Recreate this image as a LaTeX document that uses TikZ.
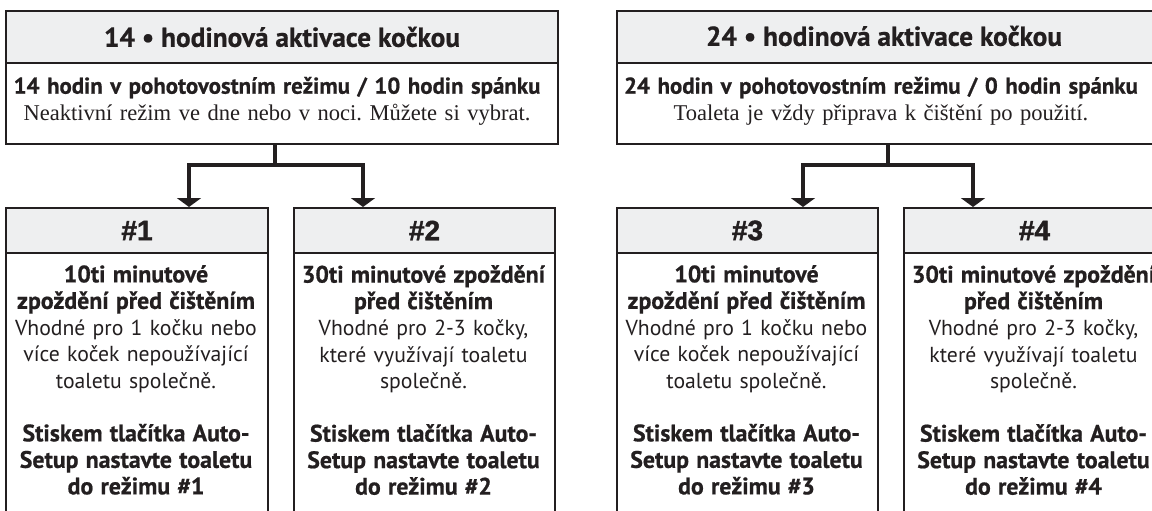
\documentclass[tikz,border=0pt]{standalone}
\usepackage{fontspec}
\setmainfont{Liberation Serif}
\newfontfamily\myr[BoldFeatures={FakeBold=0.7}]{PT Sans}
\newfontfamily\hashfam[BoldFeatures={FakeBold=1.5}]{Liberation Sans}
\usetikzlibrary{arrows.meta}
\definecolor{ink}{HTML}{231F20}
\definecolor{band}{HTML}{EEEFF0}
\frenchspacing
\newlength\fitw
\newcommand\fitfont[4]{%
  \settowidth\fitw{#2\fontsize{10pt}{12pt}\selectfont #3}%
  \pgfmathsetmacro#1{10*#4/\fitw}}
\AtBeginDocument{%
\frenchspacing
\fitfont\szH{\myr\bfseries}{14 • hodinová aktivace kočkou}{356}%
\fitfont\szS{\myr\bfseries}{14 hodin v pohotovostním režimu / 10 hodin spánku}{513}%
\fitfont\szE{\rmfamily}{Neaktivní režim ve dne nebo v noci. Můžete si vybrat.}{490}%
\fitfont\szB{\myr\bfseries}{Setup nastavte toaletu}{230}%
\fitfont\szR{\myr}{Vhodné pro 1 kočku nebo}{236}%
}
\newcommand\Bl[1]{{\myr\bfseries\fontsize{\szB pt}{26.5pt}\selectfont #1}}
\newcommand\Rl[1]{{\myr\fontsize{\szR pt}{26.5pt}\selectfont #1}}
\tikzset{
  frame/.style={draw=ink, line width=2pt, inner sep=0pt, anchor=north west},
  hband/.style={frame, fill=band, text=ink},
  wbody/.style={frame, fill=white},
  conn/.style={draw=ink, line width=3.6pt},
  arr/.style={conn, -{Triangle[width=24pt,length=9pt]}},
  txt/.style={text=ink, inner sep=0pt, align=center, text width=300pt,
    font=\myr\fontsize{\szR pt}{26.5pt}\selectfont},
  toptxt/.style={text=ink, inner sep=0pt, align=center, text width=580pt,
    font=\rmfamily\fontsize{\szE pt}{26.5pt}\selectfont},
  htitle/.style={font=\myr\bfseries\fontsize{\szH pt}{\szH pt}\selectfont},
  hashtitle/.style={font=\hashfam\bfseries\fontsize{28pt}{28pt}\selectfont},
}
\begin{document}
\begin{tikzpicture}[x=1pt,y=-1pt]
\useasboundingbox (0,0) rectangle (1152,511);
\clip (0,0) rectangle (1152,511);
\fill[white] (0,0) rectangle (1152,511);

% ---- top boxes
\node[hband, htitle, minimum width=552pt, minimum height=52pt] (T1h) at (5,10) {14 • hodinová aktivace kočkou};
\node[wbody, minimum width=552pt, minimum height=81pt] (T1b) at (5,62) {};
\node[toptxt] (T1t) at (277,101) {{\myr\bfseries\fontsize{\szS pt}{26.5pt}\selectfont 14 hodin v pohotovostním režimu / 10 hodin spánku}\\
{\rmfamily\fontsize{\szE pt}{26.5pt}\selectfont Neaktivní režim ve dne nebo v noci. Můžete si vybrat.}};

\node[hband, htitle, minimum width=552pt, minimum height=52pt] (T2h) at (616,10) {};
\node[htitle, text=ink] (T2ht) at (884,36) {24 • hodinová aktivace kočkou};
\node[wbody, minimum width=552pt, minimum height=81pt] (T2b) at (616,62) {};
\node[toptxt] (T2t) at (881,101) {{\myr\bfseries\fontsize{\szS pt}{26.5pt}\selectfont 24 hodin v pohotovostním režimu / 0 hodin spánku}\\
{\rmfamily\fontsize{\szE pt}{26.5pt}\selectfont Toaleta je vždy připrava k čištění po použití.}};

% ---- lower boxes
\node[hband, hashtitle, minimum width=262pt, minimum height=45pt] (B1h) at (5,207) {\#1};
\node[wbody, minimum width=262pt, minimum height=320pt] (B1b) at (5,252) {};
\node[hband, hashtitle, minimum width=261pt, minimum height=45pt] (B2h) at (293,207) {\#2};
\node[wbody, minimum width=261pt, minimum height=320pt] (B2b) at (293,252) {};
\node[hband, hashtitle, minimum width=261pt, minimum height=45pt] (B3h) at (616,207) {\#3};
\node[wbody, minimum width=261pt, minimum height=320pt] (B3b) at (616,252) {};
\node[hband, hashtitle, minimum width=261pt, minimum height=45pt] (B4h) at (903,207) {\#4};
\node[wbody, minimum width=261pt, minimum height=320pt] (B4b) at (903,252) {};

\node[txt, anchor=north] (B1t) at (136,265) {\Bl{10ti minutové}\\ \Bl{zpoždění před čištěním}\\ \Rl{Vhodné pro 1 kočku nebo}\\ \Rl{více koček nepoužívající}\\ \Rl{toaletu společně.}\\[26.5pt] \Bl{Stiskem tlačítka Auto-}\\ \Bl{Setup nastavte toaletu}\\ \Bl{do režimu \#1}};
\node[txt, anchor=north] (B2t) at (423.5,265) {\Bl{30ti minutové zpoždění}\\ \Bl{před čištěním}\\ \Rl{Vhodné pro 2-3 kočky,}\\ \Rl{které využívají toaletu}\\ \Rl{společně.}\\[26.5pt] \Bl{Stiskem tlačítka Auto-}\\ \Bl{Setup nastavte toaletu}\\ \Bl{do režimu \#2}};
\node[txt, anchor=north] (B3t) at (746.5,265) {\Bl{10ti minutové}\\ \Bl{zpoždění před čištěním}\\ \Rl{Vhodné pro 1 kočku nebo}\\ \Rl{více koček nepoužívající}\\ \Rl{toaletu společně.}\\[26.5pt] \Bl{Stiskem tlačítka Auto-}\\ \Bl{Setup nastavte toaletu}\\ \Bl{do režimu \#3}};
\node[txt, anchor=north] (B4t) at (1033.5,265) {\Bl{30ti minutové zpoždění}\\ \Bl{před čištěním}\\ \Rl{Vhodné pro 2-3 kočky,}\\ \Rl{které využívají toaletu}\\ \Rl{společně.}\\[26.5pt] \Bl{Stiskem tlačítka Auto-}\\ \Bl{Setup nastavte toaletu}\\ \Bl{do režimu \#4}};

% ---- connectors
\coordinate (j1) at (275,165);
\coordinate (a1) at (189,165);
\coordinate (a2) at (363,165);
\coordinate (j2) at (888,165);
\coordinate (a3) at (803,165);
\coordinate (a4) at (973,165);
\draw[conn] (j1 |- T1b.south) -- (j1);
\draw[conn] (j2 |- T2b.south) -- (j2);
\draw[arr] (j1) -| (a1 |- B1h.north);
\draw[arr] (j1) -| (a2 |- B2h.north);
\draw[arr] (j2) -| (a3 |- B3h.north);
\draw[arr] (j2) -| (a4 |- B4h.north);
\end{tikzpicture}
\end{document}
